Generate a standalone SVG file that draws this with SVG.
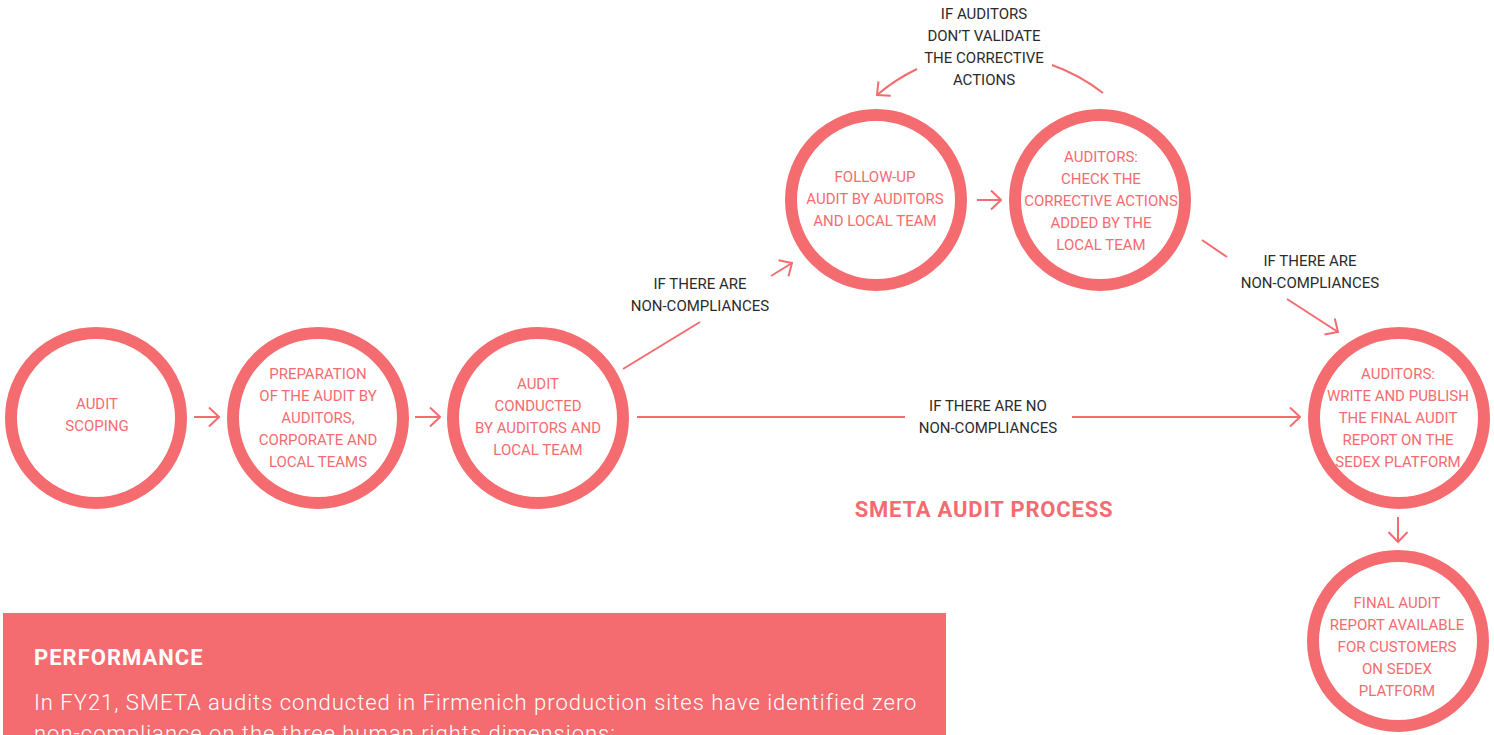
<svg xmlns="http://www.w3.org/2000/svg" width="1494" height="735" viewBox="0 0 1494 735">
<defs>
<style>
.node{fill:none;stroke:#F46C6F;stroke-width:12}
.nt{font-family:Roboto,"Liberation Sans",sans-serif;font-size:15px;fill:#F46C6F;text-anchor:middle}
.lt{font-family:Roboto,"Liberation Sans",sans-serif;font-size:15px;fill:#2b2b2b;text-anchor:middle}
.c{fill:none;stroke:#F46C6F;stroke-width:2}
.ca{fill:none;stroke:#F46C6F;stroke-width:2;marker-end:url(#ah)}
</style>
<marker id="ah" viewBox="0 0 12 21" refX="11" refY="10.5" markerWidth="12" markerHeight="21" markerUnits="userSpaceOnUse" orient="auto">
<path d="M1,1 L11,10.5 L1,20" fill="none" stroke="#F46C6F" stroke-width="2"/>
</marker>
</defs>
<rect width="1494" height="735" fill="#fff"/>

<g id="connectors">
<line class="ca" x1="194" y1="417" x2="219" y2="417"/>
<line class="ca" x1="415" y1="417" x2="440" y2="417"/>
<line class="c" x1="637" y1="417" x2="905" y2="417"/>
<line class="ca" x1="1072" y1="417" x2="1300" y2="417"/>
<line class="c" x1="623" y1="369" x2="700" y2="322"/>
<line class="ca" x1="771" y1="276" x2="792" y2="263"/>
<line class="ca" x1="977" y1="200" x2="1001" y2="200"/>
<path class="c" d="M1103,93 A184,184 0 0 0 1052,65"/>
<path class="ca" d="M917,69 A184,184 0 0 0 877,95"/>
<line class="c" x1="1202" y1="240" x2="1227" y2="257"/>
<line class="ca" x1="1287" y1="299" x2="1338" y2="332"/>
<line class="ca" x1="1398" y1="517" x2="1398" y2="542"/>
</g>

<g id="labels">
<text class="lt"><tspan x="984" y="19">IF AUDITORS</tspan><tspan x="984" y="41">DON’T VALIDATE</tspan><tspan x="984" y="63">THE CORRECTIVE</tspan><tspan x="984" y="85">ACTIONS</tspan></text>
<text class="lt"><tspan x="700" y="289">IF THERE ARE</tspan><tspan x="700" y="311">NON-COMPLIANCES</tspan></text>
<text class="lt"><tspan x="1310" y="266">IF THERE ARE</tspan><tspan x="1310" y="288">NON-COMPLIANCES</tspan></text>
<text class="lt"><tspan x="988" y="411">IF THERE ARE NO</tspan><tspan x="988" y="433">NON-COMPLIANCES</tspan></text>
</g>

<g id="n1">
<circle class="node" cx="96" cy="418" r="85"/>
<text class="nt"><tspan x="97" y="409">AUDIT</tspan><tspan x="97" y="431">SCOPING</tspan></text>
</g>
<g id="n2">
<circle class="node" cx="318" cy="418" r="85"/>
<text class="nt"><tspan x="318" y="379">PREPARATION</tspan><tspan x="318" y="401">OF THE AUDIT BY</tspan><tspan x="318" y="423">AUDITORS,</tspan><tspan x="318" y="445">CORPORATE AND</tspan><tspan x="318" y="467">LOCAL TEAMS</tspan></text>
</g>
<g id="n3">
<circle class="node" cx="538" cy="418" r="85"/>
<text class="nt"><tspan x="538" y="389">AUDIT</tspan><tspan x="538" y="411">CONDUCTED</tspan><tspan x="538" y="433">BY AUDITORS AND</tspan><tspan x="538" y="455">LOCAL TEAM</tspan></text>
</g>
<g id="n4">
<circle class="node" cx="876" cy="200" r="85"/>
<text class="nt"><tspan x="875" y="182">FOLLOW-UP</tspan><tspan x="875" y="204">AUDIT BY AUDITORS</tspan><tspan x="875" y="226">AND LOCAL TEAM</tspan></text>
</g>
<g id="n5">
<circle class="node" cx="1100" cy="200" r="85"/>
<text class="nt"><tspan x="1101" y="162">AUDITORS:</tspan><tspan x="1101" y="184">CHECK THE</tspan><tspan x="1101" y="206">CORRECTIVE ACTIONS</tspan><tspan x="1101" y="228">ADDED BY THE</tspan><tspan x="1101" y="250">LOCAL TEAM</tspan></text>
</g>
<g id="n6">
<circle class="node" cx="1399" cy="418" r="85"/>
<text class="nt"><tspan x="1398" y="379">AUDITORS:</tspan><tspan x="1398" y="401">WRITE AND PUBLISH</tspan><tspan x="1398" y="423">THE FINAL AUDIT</tspan><tspan x="1398" y="445">REPORT ON THE</tspan><tspan x="1398" y="467">SEDEX PLATFORM</tspan></text>
</g>
<g id="n7">
<circle class="node" cx="1398" cy="641" r="85"/>
<text class="nt"><tspan x="1397" y="608">FINAL AUDIT</tspan><tspan x="1397" y="630">REPORT AVAILABLE</tspan><tspan x="1397" y="652">FOR CUSTOMERS</tspan><tspan x="1397" y="674">ON SEDEX</tspan><tspan x="1397" y="696">PLATFORM</tspan></text>
</g>

<text x="984" y="517" font-family="Roboto,'Liberation Sans',sans-serif" font-size="22" font-weight="bold" letter-spacing="0.8" fill="#F46C6F" text-anchor="middle">SMETA AUDIT PROCESS</text>

<g id="performance">
<rect x="3" y="613" width="943" height="130" fill="#F46C6F"/>
<text x="34" y="665" font-family="Roboto,'Liberation Sans',sans-serif" font-size="22" font-weight="bold" letter-spacing="1" fill="#fff">PERFORMANCE</text>
<text font-family="Roboto,'Liberation Sans',sans-serif" font-size="22" font-weight="300" letter-spacing="1" fill="#fff"><tspan x="34" y="710">In FY21, SMETA audits conducted in Firmenich production sites have identified zero</tspan><tspan x="34" y="741">non-compliance on the three human rights dimensions:</tspan></text>
</g>
</svg>
